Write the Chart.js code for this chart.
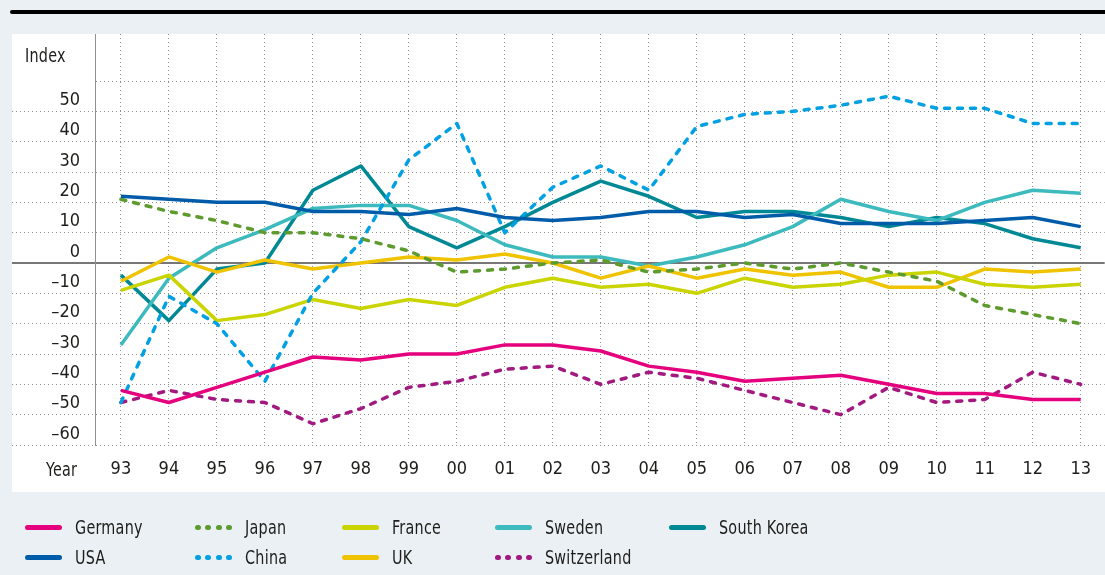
<!DOCTYPE html>
<html>
<head>
<meta charset="utf-8">
<script src="https://cdn.jsdelivr.net/npm/chart.js@4.4.1/dist/chart.umd.min.js"></script>
<style>
  html, body { margin: 0; padding: 0; }
  body {
    width: 1105px; height: 575px; position: relative; overflow: hidden;
    background: #ebf0f4;
    font-family: "DejaVu Sans Condensed", "Liberation Sans Narrow", "Roboto", sans-serif;
    color: #1d1d1b;
  }
  .rule { position: absolute; left: 10px; top: 10px; width: 1095px; height: 4px; background: #000; border-radius: 2px 0 0 2px; }
  .panel { position: absolute; left: 12px; top: 34px; width: 1093px; height: 458px; background: #fff; }
  .panel canvas { position: absolute; left: 0; top: 0; }
  .lbl { position: absolute; font-size: 19px; line-height: 20px; letter-spacing: 0.3px; transform: scaleX(0.84); transform-origin: 0 0; }
  .legend-item { position: absolute; height: 20px; font-size: 19px; line-height: 20px; white-space: nowrap; }
  .legend-item .sw { position: absolute; left: 0; top: 8px; width: 37px; height: 5px; }
  .legend-item .sw.solid { border-radius: 3px; }
  .legend-item .sw.dot span { position: absolute; top: 0; width: 6px; height: 5px; border-radius: 3px; }
  .legend-item .tx { position: absolute; left: 50px; top: 0; letter-spacing: 0.3px; transform: scaleX(0.84); transform-origin: 0 0; }
</style>
</head>
<body>
<div class="rule"></div>
<div class="panel">
  <canvas id="chart" width="1093" height="458"></canvas>
</div>
<div class="lbl" style="left:25px; top:45px;">Index</div>
<div class="lbl" style="left:46px; top:459px;">Year</div>
<div id="legend"></div>

<script>
const years = ['93', '94', '95', '96', '97', '98', '99', '00', '01', '02', '03',
  '04', '05', '06', '07', '08', '09', '10', '11', '12', '13'];
const yTicks = [-60, -50, -40, -30, -20, -10, 0, 10, 20, 30, 40, 50, 60];

const germany = [-42, -46, -41, -36, -31, -32, -30, -30, -27, -27, -29, -34, -36, -39, -38, -37, -40, -43, -43, -45, -45];
const usa = [22, 21, 20, 20, 17, 17, 16, 18, 15, 14, 15, 17, 17, 15, 16, 13, 13, 13, 14, 15, 12];
const japan = [21, 17, 14, 10, 10, 8, 4, -3, -2, 0, 1, -3, -2, 0, -2, 0, -3, -6, -14, -17, -20];
const china = [-46, -11, -20, -39, -10, 7, 34, 46, 10, 25, 32, 24, 45, 49, 50, 52, 55, 51, 51, 46, 46];
const france = [-9, -4, -19, -17, -12, -15, -12, -14, -8, -5, -8, -7, -10, -5, -8, -7, -4, -3, -7, -8, -7];
const uk = [-6, 2, -3, 1, -2, 0, 2, 1, 3, 0, -5, -1, -5, -2, -4, -3, -8, -8, -2, -3, -2];
const sweden = [-27, -5, 5, 11, 18, 19, 19, 14, 6, 2, 2, -1, 2, 6, 12, 21, 17, 14, 20, 24, 23];
const switzerland = [-46, -42, -45, -46, -53, -48, -41, -39, -35, -34, -40, -36, -38, -42, -46, -50, -41, -46, -45, -36, -40];
const southKorea = [-4, -19, -2, 0, 24, 32, 12, 5, 12, 20, 27, 22, 15, 17, 17, 15, 12, 15, 13, 8, 5];

const GRID = '#8f8f8f';
const ZERO = '#777777';
const TEXT = '#1d1d1b';
const FONT = '"DejaVu Sans Condensed", "Liberation Sans Narrow", "Roboto", sans-serif';

function line(label, values, color, dashed) {
  return {
    label: label,
    data: values.map((v, i) => ({ x: i, y: v })),
    borderColor: color,
    backgroundColor: color,
    borderWidth: 3.5,
    borderDash: dashed ? [5, 8] : [],
    borderCapStyle: dashed ? 'round' : 'butt',
    borderJoinStyle: 'round',
    pointRadius: 0,
    tension: 0,
    fill: false
  };
}

const datasets = [
  line('Germany', germany, '#e5007d', false),
  line('USA', usa, '#005ca9', false),
  line('Japan', japan, '#5e9b2f', true),
  line('China', china, '#00a0e3', true),
  line('France', france, '#c9d400', false),
  line('UK', uk, '#f0c300', false),
  line('Sweden', sweden, '#3dbabd', false),
  line('Switzerland', switzerland, '#a2197f', true),
  line('South Korea', southKorea, '#008995', false)
];

const isZero = (ctx) => ctx.tick && ctx.tick.value === 0;

new Chart(document.getElementById('chart').getContext('2d'), {
  type: 'line',
  data: { datasets: datasets },
  options: {
    responsive: false,
    animation: false,
    layout: { padding: 0 },
    plugins: { legend: { display: false }, tooltip: { enabled: false } },
    scales: {
      x: {
        type: 'linear',
        min: -0.54,
        max: 20.5,
        afterBuildTicks: (scale) => { scale.ticks = years.map((y, i) => ({ value: i })); },
        afterFit: (scale) => { scale.height = 47; },
        ticks: {
          callback: (v) => years[v],
          autoSkip: false,
          maxRotation: 0,
          padding: 14,
          color: TEXT,
          font: { family: FONT, size: 18 }
        },
        grid: { color: GRID, lineWidth: 1, drawTicks: false },
        border: { display: false, dash: [1, 3] }
      },
      y: {
        type: 'linear',
        min: -60,
        max: 75.5,
        afterBuildTicks: (scale) => { scale.ticks = yTicks.map((v) => ({ value: v })); },
        afterFit: (scale) => { scale.width = 83; },
        ticks: {
          callback: (v) => (v === 60 ? '' : v < 0 ? '\u2013' + (-v) : String(v)),
          padding: -68,
          labelOffset: -11,
          color: TEXT,
          font: { family: FONT, size: 18 }
        },
        grid: {
          color: (ctx) => (isZero(ctx) ? ZERO : GRID),
          lineWidth: (ctx) => (isZero(ctx) ? 2 : 1),
          tickLength: 83,
          tickColor: (ctx) => (ctx.tick && ctx.tick.value === 60 ? 'rgba(0,0,0,0)' : isZero(ctx) ? ZERO : GRID),
          tickWidth: (ctx) => (isZero(ctx) ? 2 : 1),
          tickBorderDash: (ctx) => (isZero(ctx) ? [] : [1, 3])
        },
        border: {
          display: true,
          color: GRID,
          width: 1,
          dash: (ctx) => (isZero(ctx) ? [] : [1, 3])
        }
      }
    }
  }
});

// legend, filled column by column
const legendCols = [25, 195, 342, 495, 669];
const legendRows = [517, 547];
const legendEl = document.getElementById('legend');
datasets.forEach((ds, i) => {
  const item = document.createElement('div');
  item.className = 'legend-item';
  item.style.left = legendCols[Math.floor(i / 2)] + 'px';
  item.style.top = legendRows[i % 2] + 'px';
  const sw = document.createElement('div');
  if (ds.borderDash.length) {
    sw.className = 'sw dot';
    for (let k = 0; k < 4; k++) {
      const d = document.createElement('span');
      d.style.left = (k * 10.3) + 'px';
      d.style.background = ds.borderColor;
      sw.appendChild(d);
    }
  } else {
    sw.className = 'sw solid';
    sw.style.background = ds.borderColor;
  }
  const tx = document.createElement('div');
  tx.className = 'tx';
  tx.textContent = ds.label;
  item.appendChild(sw);
  item.appendChild(tx);
  legendEl.appendChild(item);
});
</script>
</body>
</html>
